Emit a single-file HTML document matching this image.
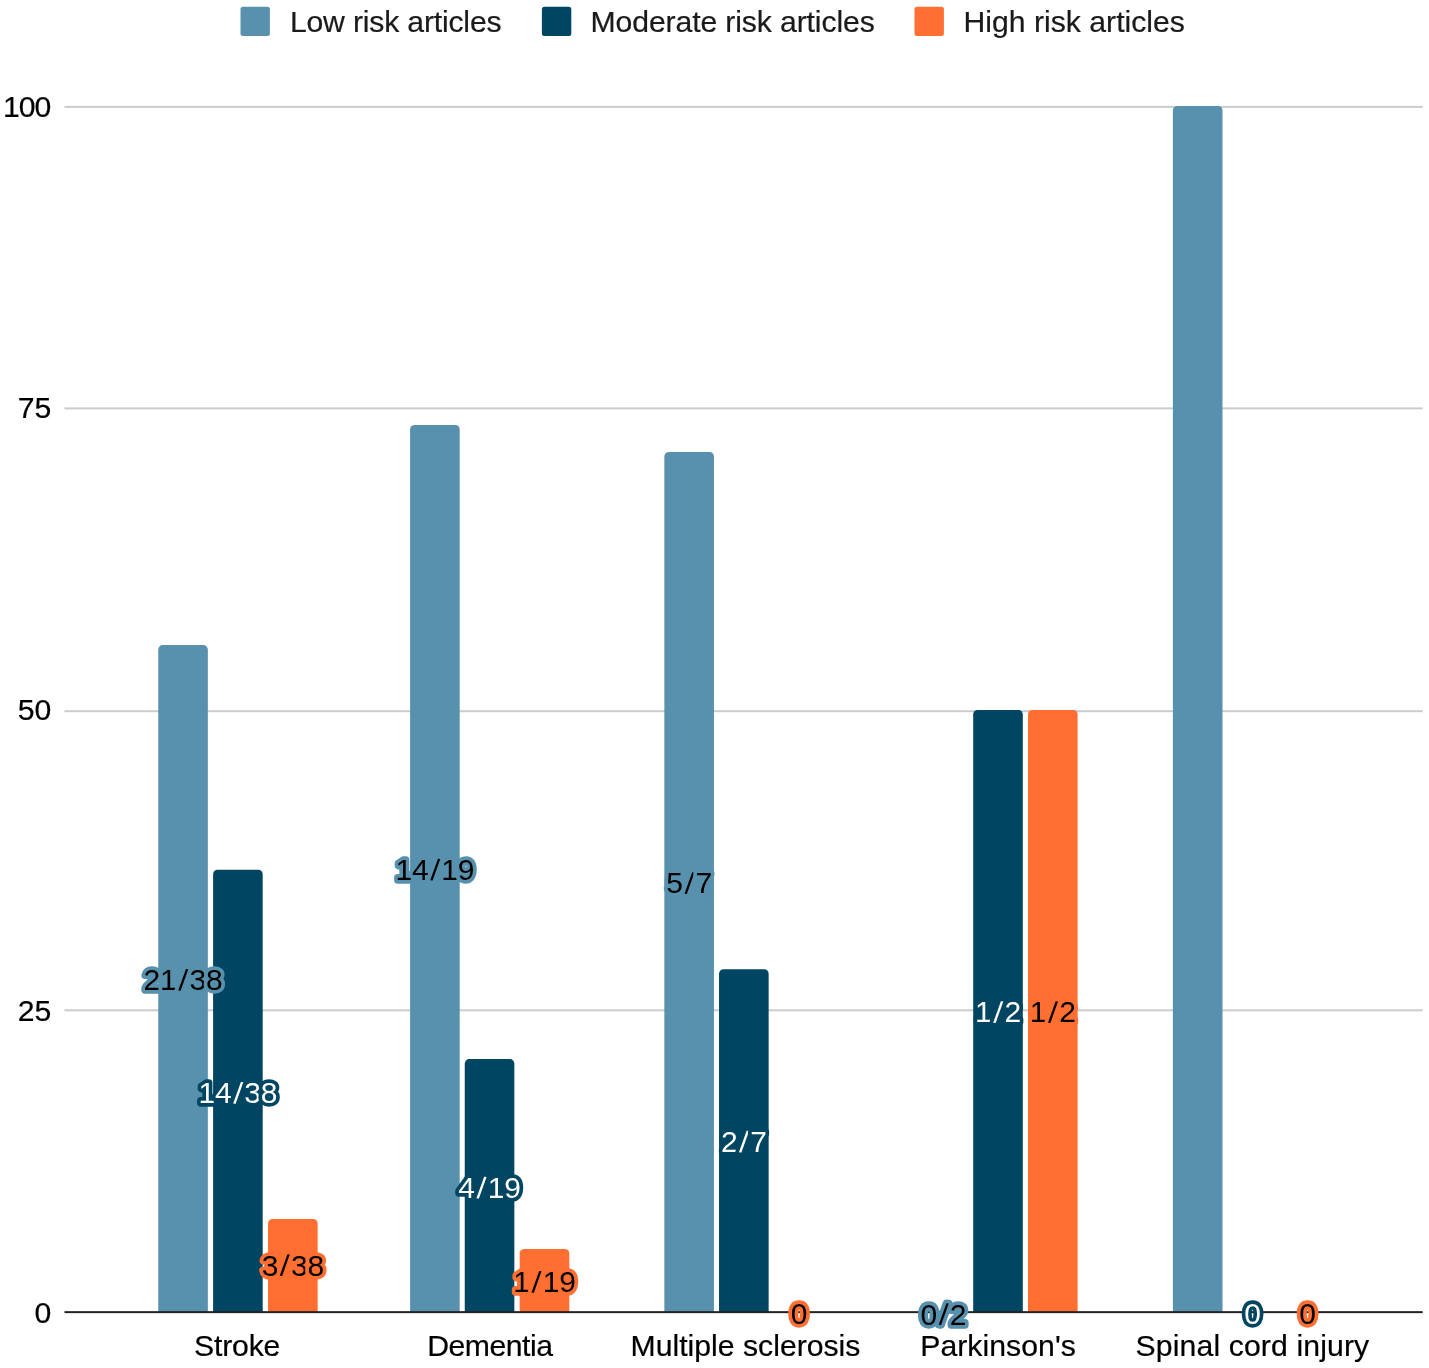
<!DOCTYPE html>
<html><head><meta charset="utf-8"><title>Chart</title>
<style>
html,body{margin:0;padding:0;background:#fff;}
svg{display:block}
text{font-family:"Liberation Sans",sans-serif;}
.ax{font-size:30.20px;fill:#000;stroke:#000;stroke-width:0.2px}
.lg{font-size:30.20px;fill:#1a1a1a;stroke:#1a1a1a;stroke-width:0.2px}
.dl{font-size:30.00px;letter-spacing:-0.2px;stroke-width:7.4;stroke-linejoin:round;stroke-linecap:round;paint-order:stroke fill;text-anchor:middle}
</style></head><body>
<svg width="1429" height="1368" viewBox="0 0 1429 1368">
<rect width="1429" height="1368" fill="#fff"/>

<rect x="64.5" y="105.90" width="1358.2" height="2" fill="#cccccc"/>
<rect x="64.5" y="407.40" width="1358.2" height="2" fill="#cccccc"/>
<rect x="64.5" y="710.20" width="1358.2" height="2" fill="#cccccc"/>
<rect x="64.5" y="1009.30" width="1358.2" height="2" fill="#cccccc"/>
<path d="M158.25 1312.15 V649.50 A4.4 4.4 0 0 1 162.65 645.10 H203.45 A4.4 4.4 0 0 1 207.85 649.50 V1312.15 Z" fill="#5891ad"/>
<path d="M213.10 1312.15 V874.20 A4.4 4.4 0 0 1 217.50 869.80 H258.30 A4.4 4.4 0 0 1 262.70 874.20 V1312.15 Z" fill="#004561"/>
<path d="M268.05 1312.15 V1223.40 A4.4 4.4 0 0 1 272.45 1219.00 H313.25 A4.4 4.4 0 0 1 317.65 1223.40 V1312.15 Z" fill="#ff6f31"/>
<path d="M410.10 1312.15 V429.30 A4.4 4.4 0 0 1 414.50 424.90 H455.30 A4.4 4.4 0 0 1 459.70 429.30 V1312.15 Z" fill="#5891ad"/>
<path d="M464.75 1312.15 V1063.50 A4.4 4.4 0 0 1 469.15 1059.10 H509.95 A4.4 4.4 0 0 1 514.35 1063.50 V1312.15 Z" fill="#004561"/>
<path d="M519.70 1312.15 V1253.30 A4.4 4.4 0 0 1 524.10 1248.90 H564.90 A4.4 4.4 0 0 1 569.30 1253.30 V1312.15 Z" fill="#ff6f31"/>
<path d="M664.35 1312.15 V456.40 A4.4 4.4 0 0 1 668.75 452.00 H709.55 A4.4 4.4 0 0 1 713.95 456.40 V1312.15 Z" fill="#5891ad"/>
<path d="M719.05 1312.15 V973.70 A4.4 4.4 0 0 1 723.45 969.30 H764.25 A4.4 4.4 0 0 1 768.65 973.70 V1312.15 Z" fill="#004561"/>
<path d="M973.20 1312.15 V714.30 A4.4 4.4 0 0 1 977.60 709.90 H1018.40 A4.4 4.4 0 0 1 1022.80 714.30 V1312.15 Z" fill="#004561"/>
<path d="M1028.00 1312.15 V714.30 A4.4 4.4 0 0 1 1032.40 709.90 H1073.20 A4.4 4.4 0 0 1 1077.60 714.30 V1312.15 Z" fill="#ff6f31"/>
<path d="M1172.90 1312.15 V110.40 A4.4 4.4 0 0 1 1177.30 106.00 H1218.10 A4.4 4.4 0 0 1 1222.50 110.40 V1312.15 Z" fill="#5891ad"/>
<rect x="64.5" y="1311.15" width="1358.2" height="2" fill="#222"/>
<text class="dl" x="183.05" y="990.23" dx="0 0 1.7 3.1 0" rotate="0 0 4.5 0 0" fill="#000" stroke="#5891ad">21/38</text>
<text class="dl" x="237.90" y="1103.28" dx="0 0 1.7 3.1 0" rotate="0 0 4.5 0 0" fill="#fff" stroke="#004561">14/38</text>
<text class="dl" x="292.85" y="1275.58" dx="0 1.7 3.1 0" rotate="0 4.5 0 0" fill="#000" stroke="#ff6f31">3/38</text>
<text class="dl" x="434.90" y="879.93" dx="0 0 1.7 3.1 0" rotate="0 0 4.5 0 0" fill="#000" stroke="#5891ad">14/19</text>
<text class="dl" x="489.55" y="1198.03" dx="0 1.7 3.1 0" rotate="0 4.5 0 0" fill="#fff" stroke="#004561">4/19</text>
<text class="dl" x="544.50" y="1292.23" dx="0 1.7 3.1 0" rotate="0 4.5 0 0" fill="#000" stroke="#ff6f31">1/19</text>
<text class="dl" x="689.15" y="893.48" dx="0 1.7 3.1" rotate="0 4.5 0" fill="#000" stroke="#5891ad">5/7</text>
<text class="dl" x="743.85" y="1152.12" dx="0 1.7 3.1" rotate="0 4.5 0" fill="#fff" stroke="#004561">2/7</text>
<text class="dl" x="798.90" y="1324.05" fill="#000" stroke="#ff6f31">0</text>
<text class="dl" x="943.40" y="1324.55" dx="0 1.7 3.1" rotate="0 4.5 0" fill="#000" stroke="#5891ad">0/2</text>
<text class="dl" x="998.00" y="1022.43" dx="0 1.7 3.1" rotate="0 4.5 0" fill="#fff" stroke="#004561">1/2</text>
<text class="dl" x="1052.80" y="1022.43" dx="0 1.7 3.1" rotate="0 4.5 0" fill="#000" stroke="#ff6f31">1/2</text>
<text class="dl" x="1252.50" y="1324.05" fill="#fff" stroke="#004561">0</text>
<text class="dl" x="1307.40" y="1324.05" fill="#000" stroke="#ff6f31">0</text>
<text class="ax" x="51.3" y="1322.70" text-anchor="end">0</text>
<text class="ax" x="51.3" y="1021.10" text-anchor="end">25</text>
<text class="ax" x="51.3" y="719.50" text-anchor="end">50</text>
<text class="ax" x="51.3" y="417.70" text-anchor="end">75</text>
<text class="ax" x="50.3" y="116.50" text-anchor="end" style="letter-spacing:-1px">100</text>
<text class="ax" x="237.16" y="1355.6" text-anchor="middle" style="letter-spacing:-0.180px">Stroke</text>
<text class="ax" x="489.85" y="1355.6" text-anchor="middle" style="letter-spacing:-0.500px">Dementia</text>
<text class="ax" x="745.50" y="1355.6" text-anchor="middle" style="letter-spacing:0.000px">Multiple sclerosis</text>
<text class="ax" x="998.07" y="1355.6" text-anchor="middle" style="letter-spacing:0.050px">Parkinson&#39;s</text>
<text class="ax" x="1252.46" y="1355.6" text-anchor="middle" style="letter-spacing:0.120px">Spinal cord injury</text>
<rect x="240.50" y="6.8" width="29.4" height="29.2" rx="2.5" fill="#5891ad"/>
<text class="lg" x="289.90" y="32.1" style="letter-spacing:-0.190px">Low risk articles</text>
<rect x="541.90" y="6.8" width="29.4" height="29.2" rx="2.5" fill="#004561"/>
<text class="lg" x="590.60" y="32.1" style="letter-spacing:-0.130px">Moderate risk articles</text>
<rect x="914.50" y="6.8" width="29.4" height="29.2" rx="2.5" fill="#ff6f31"/>
<text class="lg" x="963.50" y="32.1" style="letter-spacing:0.000px">High risk articles</text>
</svg></body></html>
